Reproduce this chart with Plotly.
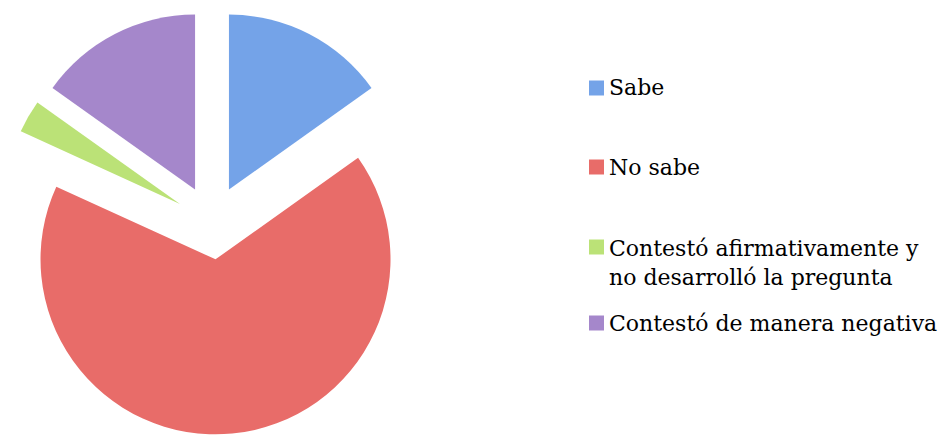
import plotly.graph_objects as go

# ---- data ----
labels = ["Sabe", "No sabe", "Contestó afirmativamente y\nno desarrolló la pregunta", "Contestó de manera negativa"]
values = [5, 22, 1, 5]
colors = ["#74A3E8", "#E86C69", "#BBE277", "#A587CB"]

W, H = 946, 445
pull = 0.2114
pie_w = 424  # px width of pie domain

fig = go.Figure()
fig.add_trace(go.Pie(
    labels=[l.replace("\n", " ") for l in labels],
    values=values,
    marker=dict(colors=colors, line=dict(width=0)),
    pull=[pull] * len(values),
    sort=False,
    direction="clockwise",
    rotation=0,
    textinfo="none",
    hoverinfo="label+percent",
    showlegend=False,
    domain=dict(x=[0, pie_w / W], y=[0, 1]),
))

# ---- manual legend (text as annotations, swatches as shapes) ----
legend_font = dict(family="DejaVu Serif", size=22, color="#000000")
item_y = [88, 167, 263, 323]        # text block centre (px)
swatch_y = [88, 167, 247, 323]      # swatch centre (px)
sw_x0, sw_size, text_x = 589, 15, 607

for lab, col, ty, sy in zip(labels, colors, item_y, swatch_y):
    fig.add_shape(type="rect", xref="paper", yref="paper",
                  x0=sw_x0 / W, x1=(sw_x0 + sw_size) / W,
                  y0=1 - (sy + sw_size / 2) / H, y1=1 - (sy - sw_size / 2) / H,
                  fillcolor=col, line=dict(width=0))
    fig.add_annotation(xref="paper", yref="paper", x=text_x / W, y=1 - ty / H,
                       xanchor="left", yanchor="middle", align="left",
                       text=lab.replace("\n", "<br>"), showarrow=False,
                       font=legend_font)

fig.update_layout(
    width=W, height=H,
    margin=dict(l=0, r=0, t=0, b=0),
    paper_bgcolor="white", plot_bgcolor="white",
)

fig.write_html("out.html", config={"displayModeBar": False},
               post_script="document.body.style.margin='0';")
